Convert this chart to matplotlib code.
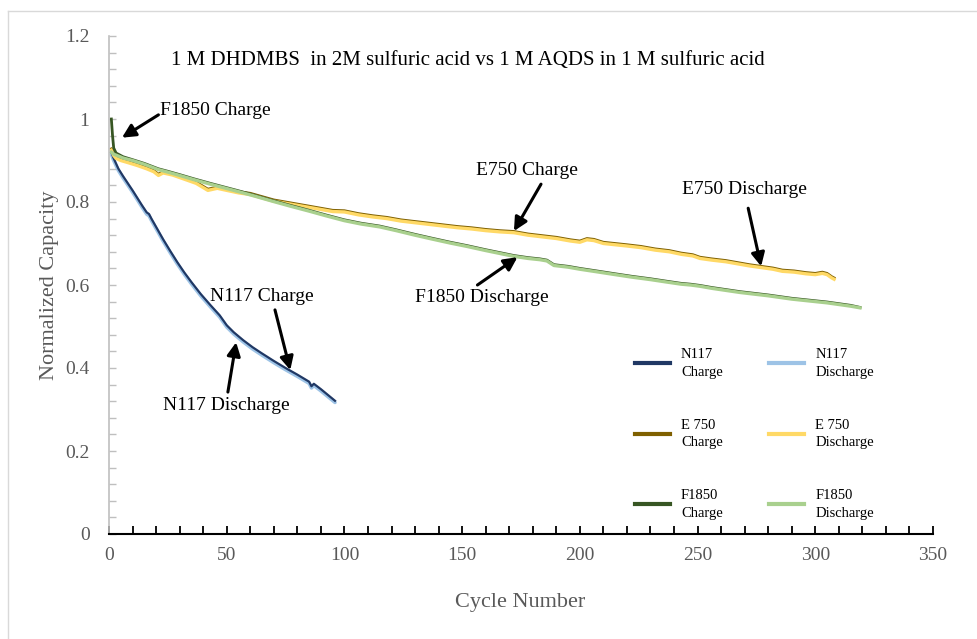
import numpy as np
import matplotlib
matplotlib.use("Agg")
import matplotlib.pyplot as plt
from matplotlib.ticker import MultipleLocator
from matplotlib.lines import Line2D

plt.rcParams['font.family'] = ['Liberation Serif', 'DejaVu Serif']

# ---- data ----
n117_x = [1, 2, 4, 6, 8, 10, 12, 14, 16, 17, 18, 20, 23, 26, 29, 32, 35, 39, 43, 47,
          50, 53, 57, 61, 65, 70, 75, 80, 85, 86, 87, 90, 93, 96]
n117_charge = [0.92, 0.905, 0.88, 0.862, 0.845, 0.828, 0.81, 0.792, 0.775, 0.771, 0.76,
               0.74, 0.71, 0.682, 0.655, 0.63, 0.607, 0.578, 0.552, 0.527, 0.503, 0.486,
               0.467, 0.45, 0.435, 0.417, 0.4, 0.384, 0.367, 0.356, 0.362, 0.349, 0.335, 0.321]
n117_discharge = [0.915, 0.9, 0.876, 0.858, 0.841, 0.824, 0.806, 0.788, 0.771, 0.767, 0.756,
                  0.736, 0.706, 0.678, 0.651, 0.626, 0.603, 0.574, 0.548, 0.523, 0.499, 0.482,
                  0.463, 0.446, 0.431, 0.413, 0.396, 0.38, 0.363, 0.352, 0.358, 0.345, 0.331, 0.317]

e750_x = [1, 2, 3, 5, 8, 12, 16, 19, 21, 23, 27, 32, 37, 42, 46, 50, 55, 60, 65, 70, 75, 80,
          85, 90, 95, 100, 106, 112, 118, 124, 130, 136, 142, 148, 154, 160, 166, 172, 178,
          184, 190, 196, 200, 203, 206, 210, 215, 220, 226, 232, 238, 243, 248, 251, 256,
          262, 268, 272, 277, 282, 286, 291, 296, 300, 303, 305, 307, 308]
e750_charge = [0.928, 0.915, 0.908, 0.903, 0.898, 0.891, 0.883, 0.876, 0.867, 0.873, 0.868,
               0.858, 0.848, 0.831, 0.836, 0.831, 0.825, 0.821, 0.813, 0.805, 0.8, 0.795,
               0.79, 0.785, 0.78, 0.779, 0.772, 0.767, 0.763, 0.757, 0.753, 0.749, 0.745,
               0.741, 0.738, 0.734, 0.731, 0.729, 0.723, 0.719, 0.715, 0.709, 0.706, 0.712,
               0.71, 0.703, 0.7, 0.697, 0.693, 0.687, 0.683, 0.677, 0.673, 0.667, 0.663,
               0.659, 0.653, 0.649, 0.645, 0.641, 0.636, 0.634, 0.63, 0.628, 0.631, 0.628,
               0.62, 0.617]
e750_discharge = [0.925, 0.912, 0.905, 0.9, 0.895, 0.888, 0.88, 0.873, 0.864, 0.87, 0.865,
                  0.855, 0.845, 0.828, 0.833, 0.828, 0.822, 0.818, 0.81, 0.802, 0.797, 0.792,
                  0.787, 0.782, 0.777, 0.776, 0.769, 0.764, 0.76, 0.754, 0.75, 0.746, 0.742,
                  0.738, 0.735, 0.731, 0.728, 0.726, 0.72, 0.716, 0.712, 0.706, 0.703, 0.709,
                  0.707, 0.7, 0.697, 0.694, 0.69, 0.684, 0.68, 0.674, 0.67, 0.664, 0.66,
                  0.656, 0.65, 0.646, 0.642, 0.638, 0.633, 0.631, 0.627, 0.625, 0.628, 0.625,
                  0.617, 0.614]

f1850_x = [1, 1.5, 2, 3, 6, 10, 15, 21, 25, 30, 36, 43, 49, 55, 62, 70, 77, 85, 92, 100,
           107, 115, 122, 130, 137, 145, 152, 160, 166, 172, 178, 183, 186, 189, 195, 200,
           207, 215, 222, 230, 237, 243, 247, 251, 256, 262, 268, 274, 280, 285, 290, 295,
           300, 305, 310, 315, 319]
f1850_charge = [1.0, 0.96, 0.93, 0.918, 0.909, 0.902, 0.893, 0.88, 0.874, 0.866, 0.856,
                0.845, 0.836, 0.827, 0.816, 0.803, 0.792, 0.78, 0.769, 0.757, 0.749, 0.742,
                0.733, 0.722, 0.713, 0.703, 0.695, 0.685, 0.678, 0.671, 0.666, 0.663, 0.66,
                0.649, 0.645, 0.64, 0.634, 0.627, 0.621, 0.615, 0.609, 0.604, 0.602, 0.599,
                0.594, 0.589, 0.584, 0.58, 0.576, 0.572, 0.568, 0.565, 0.562, 0.559, 0.555,
                0.551, 0.546]
f1850_discharge = [0.92, 0.918, 0.915, 0.913, 0.906, 0.9, 0.891, 0.878, 0.872, 0.864, 0.854,
                   0.843, 0.834, 0.825, 0.814, 0.801, 0.79, 0.778, 0.767, 0.755, 0.747, 0.74,
                   0.731, 0.72, 0.711, 0.701, 0.693, 0.683, 0.676, 0.669, 0.664, 0.661, 0.658,
                   0.647, 0.643, 0.638, 0.632, 0.625, 0.619, 0.613, 0.607, 0.602, 0.6, 0.597,
                   0.592, 0.587, 0.582, 0.578, 0.574, 0.57, 0.566, 0.563, 0.56, 0.557, 0.553,
                   0.549, 0.545]

gray = '#595959'

fig = plt.figure(figsize=(9.78, 6.39), dpi=100)
ax = fig.add_axes([109/978, 1-534/639, 824/978, 498/639])

ax.plot(n117_x, n117_discharge, color='#9DC3E6', lw=2.6, solid_capstyle='round')
ax.plot(n117_x, n117_charge, color='#203864', lw=1.6)
ax.plot(e750_x, e750_charge, color='#7F6000', lw=2.0)
ax.plot(e750_x, e750_discharge, color='#FFD966', lw=2.4)
ax.plot(f1850_x, f1850_charge, color='#375623', lw=2.0)
ax.plot(f1850_x, f1850_discharge, color='#A9D08E', lw=2.4)

ax.set_xlim(0, 350)
ax.set_ylim(0, 1.2)
for s in ['top', 'right']:
    ax.spines[s].set_visible(False)
ax.spines['left'].set_color('#BFBFBF')
ax.spines['left'].set_linewidth(1.2)
ax.spines['bottom'].set_color('black')
ax.spines['bottom'].set_linewidth(1.5)

ax.set_xticks([0, 50, 100, 150, 200, 250, 300, 350])
ax.xaxis.set_minor_locator(MultipleLocator(10))
ax.set_yticks([0, 0.2, 0.4, 0.6, 0.8, 1.0, 1.2])
ax.set_yticklabels(['0', '0.2', '0.4', '0.6', '0.8', '1', '1.2'])
ax.yaxis.set_minor_locator(MultipleLocator(0.04))
ax.tick_params(axis='x', which='both', direction='in', length=6, width=1.3, color='black',
               labelsize=14, labelcolor=gray, pad=9)
ax.tick_params(axis='y', which='both', direction='in', length=5, width=1.0, color='#BFBFBF',
               labelsize=14, labelcolor=gray, pad=14)

fig.text(50/978, 1-285/639, 'Normalized Capacity', rotation=90, ha='center', va='center',
         fontsize=16, color=gray)
fig.text(520/978, 1-602/639, 'Cycle Number', ha='center', va='center', fontsize=16, color=gray)
fig.text(468/978, 1-60/639, '1 M DHDMBS  in 2M sulfuric acid vs 1 M AQDS in 1 M sulfuric acid',
         ha='center', va='center', fontsize=15, color='black')

# annotations: (text, text pos, alignment, arrow tail, arrow tip)
notes = [
    ('F1850 Charge', (21.5, 1.02), 'left', (21, 1.01), (5.5, 0.955)),
    ('E750 Charge', (177.5, 0.877), 'center', (183.5, 0.843), (172, 0.73)),
    ('E750 Discharge', (270, 0.829), 'center', (271.5, 0.785), (277, 0.645)),
    ('F1850 Discharge', (158.5, 0.569), 'center', (156.5, 0.6), (173.5, 0.667)),
    ('N117 Charge', (65, 0.573), 'center', (70.5, 0.54), (77, 0.395)),
    ('N117 Discharge', (50, 0.31), 'center', (50.5, 0.342), (54, 0.462)),
]
for label, pos, ha, tail, tip in notes:
    ax.text(pos[0], pos[1], label, ha=ha, va='center', fontsize=14, color='black')
    ax.annotate('', xy=tip, xytext=tail,
                arrowprops=dict(arrowstyle='-|>', color='black', lw=2.2, mutation_scale=20,
                                shrinkA=0, shrinkB=0))

handles = [
    Line2D([], [], color='#203864', lw=3),
    Line2D([], [], color='#7F6000', lw=3),
    Line2D([], [], color='#375623', lw=3),
    Line2D([], [], color='#9DC3E6', lw=3),
    Line2D([], [], color='#FFD966', lw=3),
    Line2D([], [], color='#A9D08E', lw=3),
]
labels = ['N117\nCharge', 'E 750\nCharge', 'F1850\nCharge',
          'N117\nDischarge', 'E 750\nDischarge', 'F1850\nDischarge']
leg = fig.legend(handles, labels, ncol=2, loc='upper left',
                 bbox_to_anchor=(622/978, 1-335/639),
                 frameon=False, handlelength=2.4, handletextpad=0.75,
                 columnspacing=3.2, labelspacing=2.75, prop={'size': 10.5})
for t in leg.get_texts():
    t.set_linespacing(1.45)
    t.set_multialignment('left')

# light frame around the chart
fig.add_artist(Line2D([8/978, 1.0], [1-10.5/639, 1-10.5/639], color='#D9D9D9', lw=1,
                      transform=fig.transFigure))
fig.add_artist(Line2D([8/978, 8/978], [0, 1-10.5/639], color='#D9D9D9', lw=1,
                      transform=fig.transFigure))

fig.savefig('out.png', dpi=100)
